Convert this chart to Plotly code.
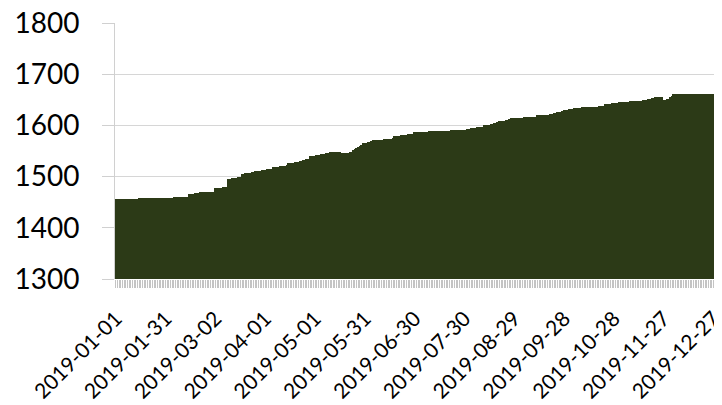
import plotly.graph_objects as go
import pandas as pd

start_date = "2019-01-01"
n_days = 365

jan = [1456,1456,1456,1456,1456,1456,1456,1457,1457,1457,1457,1457,1457,1457,1458,1458,
       1458,1458,1458,1458,1458,1458,1459,1459,1459,1459,1459,1459,1459,1459,1459]
feb = [1459,1459,1459,1459,1460,1460,1460,1460,1460,1460,1460,1460,1460,1467,1467,1467,
       1467,1468,1468,1468,1469,1469,1469,1469,1470,1470,1470,1470]
mar = [1470,1477,1477,1478,1478,1478,1479,1479,1480,1496,1496,1497,1497,1498,1498,1499,
       1499,1506,1506,1507,1507,1508,1508,1509,1509,1510,1510,1511,1511,1512,1512]
apr = [1513,1514,1514,1515,1515,1518,1518,1519,1519,1520,1520,1521,1521,1522,1526,1526,
       1527,1527,1528,1528,1529,1530,1531,1532,1533,1534,1535,1540,1540,1541]
may = [1541,1542,1542,1543,1544,1545,1545,1546,1547,1549,1549,1549,1549,1548,1548,1548,
       1547,1547,1547,1547,1547,1548,1549,1551,1553,1555,1557,1559,1561,1565,1565]
jun = [1566,1567,1568,1570,1571,1571,1571,1572,1572,1572,1572,1573,1573,1573,1574,1574,
       1575,1579,1579,1580,1580,1581,1581,1582,1582,1583,1583,1584,1584,1587]
jul = [1587,1587,1587,1588,1588,1588,1588,1588,1589,1589,1589,1589,1589,1589,1589,1589,
       1590,1590,1590,1590,1590,1591,1591,1591,1591,1591,1592,1592,1592,1592,1592]
aug = [1593,1593,1594,1594,1595,1595,1596,1596,1597,1597,1600,1600,1601,1601,1602,1603,
       1604,1605,1606,1608,1608,1609,1609,1610,1611,1612,1614,1614,1615,1615,1615]
sep = [1615,1615,1615,1616,1616,1616,1616,1616,1617,1617,1617,1621,1621,1621,1621,1620,
       1620,1620,1621,1622,1623,1624,1625,1626,1627,1627,1628,1630,1630,1631]
oct_ = [1632,1632,1633,1634,1634,1634,1634,1634,1635,1635,1635,1635,1635,1636,1636,1636,
        1636,1636,1637,1637,1637,1638,1641,1641,1642,1642,1643,1643,1644,1644,1645]
nov = [1646,1646,1646,1646,1646,1646,1647,1647,1647,1647,1647,1647,1647,1648,1649,1650,
       1650,1651,1652,1653,1654,1655,1655,1656,1656,1656,1650,1650,1651,1652]
dec = [1655,1658,1662,1662,1662,1662,1662,1662,1662,1662,1662,1662,1662,1662,1662,1662,
       1661,1661,1661,1661,1661,1661,1661,1661,1661,1661,1661,1661,1661,1665,1668]

values = jan + feb + mar + apr + may + jun + jul + aug + sep + oct_ + nov + dec
dates = pd.date_range(start_date, periods=n_days, freq="D")

y_ticks = [1300, 1400, 1500, 1600, 1700, 1800]

fig = go.Figure(go.Bar(
    x=dates, y=values,
    marker=dict(color="#2c3a17", line=dict(width=0)),
))

DAY = 86400000
fig.update_layout(
    width=714, height=397,
    margin=dict(l=107, r=1, t=15, b=126),
    paper_bgcolor="white", plot_bgcolor="white",
    bargap=0, showlegend=False,
    font=dict(family="Lato, Open Sans, sans-serif", color="#000000"),
)
fig.update_xaxes(
    type="date", automargin=False, ticklabeloverflow="allow",
    range=[dates[0] - pd.Timedelta(hours=12), dates[-1] + pd.Timedelta(hours=12)],
    tick0=start_date, dtick=30 * DAY, tickformat="%Y-%m-%d",
    tickangle=-45, tickfont=dict(size=21),
    ticks="outside", ticklen=8, tickcolor="#c4c4c4", tickwidth=1,
    ticklabelstandoff=10,
    minor=dict(dtick=DAY, ticks="outside", ticklen=8, tickcolor="#c4c4c4", tickwidth=1, showgrid=False),
    showgrid=False, showline=False, zeroline=False,
)
fig.update_yaxes(
    automargin=False, ticklabeloverflow="allow",
    range=[1300, 1800], tickvals=y_ticks,
    tickfont=dict(size=28),
    ticks="outside", ticklen=12, tickcolor="#d0d0d0",
    ticklabelstandoff=17,
    showgrid=True, gridcolor="#d6d6d6", gridwidth=1,
    showline=True, linecolor="#d0d0d0", linewidth=1, mirror=True,
    zeroline=False,
)

fig.write_html("out.html")
